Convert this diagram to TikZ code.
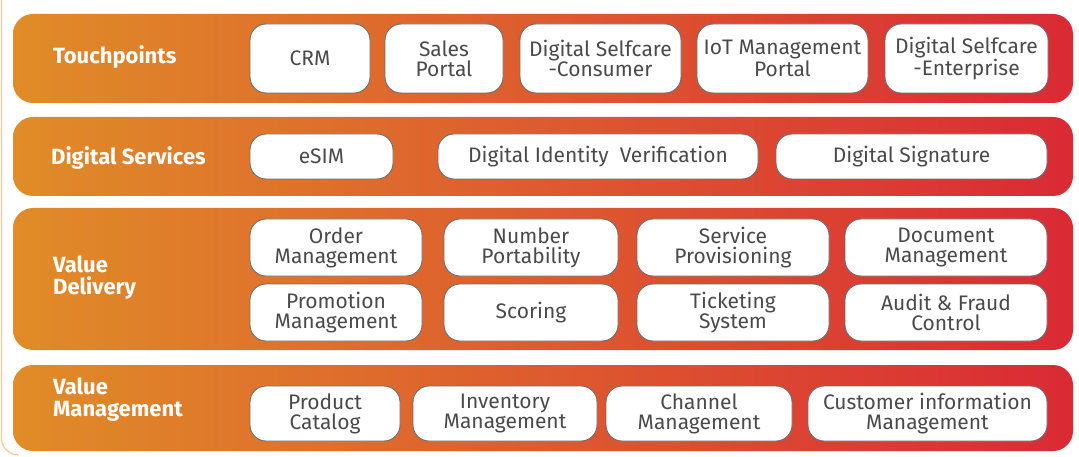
\documentclass[tikz,border=0pt]{standalone}
\usepackage{fontspec}
\setmainfont{Fira Sans}
\definecolor{bandL}{HTML}{E08C28}
\definecolor{bandR}{HTML}{DA2A35}
\definecolor{boxline}{HTML}{6E6E6E}
\definecolor{boxtext}{HTML}{4A4A4A}
\definecolor{frame}{HTML}{F2C99A}
\tikzset{
  band/.style={rounded corners=20pt, left color=bandL, right color=bandR, draw=none, inner sep=0pt},
  box/.style={rounded corners=16pt, fill=white, draw=boxline, line width=0.9pt, align=center, text=boxtext, inner sep=0pt, font=\fontsize{21}{20}\selectfont},
  bandlabel/.style={anchor=west, align=left, text=white, font=\fontsize{22}{22}\selectfont\bfseries, inner sep=0pt},
}
\begin{document}
\begin{tikzpicture}[x=1pt,y=-1pt]
\useasboundingbox (0,0) rectangle (1079,457);
\draw[frame, line width=1.2pt] (1.5,0) -- (1.5,438) arc[start angle=180, end angle=270, radius=17pt];
% bands
\node[band, minimum width=1060pt, minimum height=89pt] (b1) at (543,58.5) {};
\node[band, minimum width=1060pt, minimum height=79pt] (b2) at (543,156.5) {};
\node[band, minimum width=1060pt, minimum height=142pt] (b3) at (543,279) {};
\node[band, minimum width=1060pt, minimum height=86pt] (b4) at (543,408) {};
% labels
\node[bandlabel] (l1) at (53,57) {Touchpoints};
\node[bandlabel] (l2) at (51,158) {Digital Services};
\node[bandlabel] (l3) at (53,278) {Value\\Delivery};
\node[bandlabel] (l4) at (53,400) {Value\\Management};
% touchpoints
\node[box, minimum width=120pt, minimum height=69pt] (crm) at (310,58.5) {CRM};
\node[box, minimum width=118pt, minimum height=69pt] (sales) at (444,58.5) {Sales\\Portal};
\node[box, minimum width=161pt, minimum height=69pt] (dsc) at (600.5,58.5) {Digital Selfcare\\-Consumer};
\node[box, minimum width=171pt, minimum height=69pt] (iot) at (782.5,58.5) {IoT Management\\Portal};
\node[box, minimum width=163pt, minimum height=69pt] (dse) at (966.5,58.5) {Digital Selfcare\\-Enterprise};
% digital services
\node[box, minimum width=143pt, minimum height=45pt] (esim) at (321.5,156.5) {eSIM};
\node[box, minimum width=320pt, minimum height=45pt] (div) at (598,156.5) {Digital Identity\ \ Verification};
\node[box, minimum width=271pt, minimum height=45pt] (dsig) at (911.5,156.5) {Digital Signature};
% value delivery
\node[box, minimum width=172pt, minimum height=57pt] (om) at (336,247.5) {Order\\Management};
\node[box, minimum width=174pt, minimum height=57pt] (np) at (531,247.5) {Number\\Portability};
\node[box, minimum width=192pt, minimum height=57pt] (sp) at (733,247.5) {Service\\Provisioning};
\node[box, minimum width=202pt, minimum height=57pt] (dm) at (946,247.5) {Document\\Management};
\node[box, minimum width=172pt, minimum height=57pt] (pm) at (336,312.5) {Promotion\\Management};
\node[box, minimum width=174pt, minimum height=57pt] (sc) at (531,312.5) {Scoring};
\node[box, minimum width=192pt, minimum height=57pt] (ts) at (733,312.5) {Ticketing\\System};
\node[box, minimum width=202pt, minimum height=57pt] (af) at (946,312.5) {Audit \& Fraud\\Control};
% value management
\node[box, minimum width=150pt, minimum height=55pt] (pc) at (325,413.5) {Product\\Catalog};
\node[box, minimum width=184pt, minimum height=55pt] (inv) at (505,413.5) {Inventory\\Management};
\node[box, minimum width=186pt, minimum height=55pt] (ch) at (699,413.5) {Channel\\Management};
\node[box, minimum width=239pt, minimum height=55pt] (ci) at (927.5,413.5) {Customer information\\Management};
\end{tikzpicture}
\end{document}
